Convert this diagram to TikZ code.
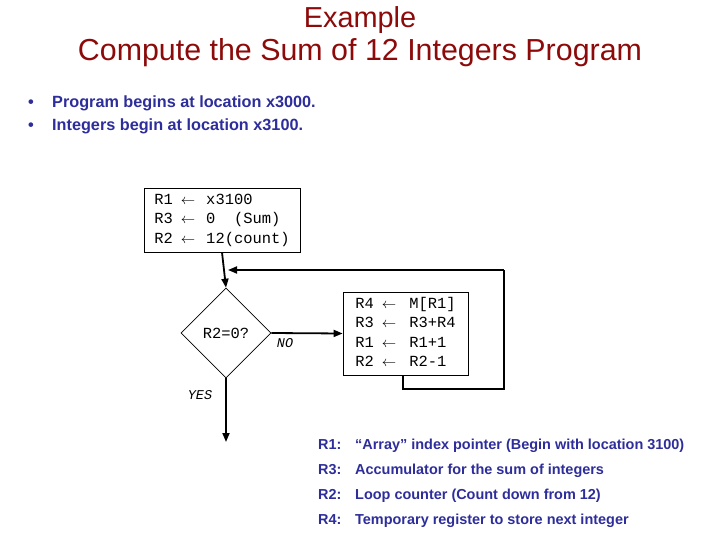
\documentclass[tikz,border=0pt]{standalone}
\usepackage{fontspec}
\setmainfont{Liberation Sans}
\setmonofont{Liberation Mono}
\usetikzlibrary{arrows.meta,shapes.geometric}
\definecolor{ttlred}{RGB}{140,10,10}
\definecolor{txtblue}{RGB}{45,45,155}
\begin{document}
\begin{tikzpicture}[x=1bp,y=-1bp,
  ttl/.style={text=ttlred,inner sep=0},
  bul/.style={text=txtblue,inner sep=0,anchor=base west,font=\bfseries\fontsize{16.3}{19}\selectfont},
  dsc/.style={text=txtblue,inner sep=0,anchor=base west,font=\bfseries\fontsize{14.5}{17}\selectfont},
  codebox/.style={draw=black,line width=0.8bp,inner sep=0,font=\ttfamily\fontsize{15.5}{19.5}\selectfont,align=left},
  lbl/.style={inner sep=0,font=\ttfamily\itshape\fontsize{13.5}{16}\selectfont},
  conn/.style={line width=1.8bp,-{Triangle[length=9bp,width=7bp]}},
  loopline/.style={line width=1.4bp}
]
\useasboundingbox (0,0) rectangle (720,540);
\node[ttl,font=\fontsize{29}{34}\selectfont] (t1) at (360,20) {Example};
\node[ttl,font=\fontsize{30.5}{36}\selectfont] (t2) at (360,53) {Compute the Sum of 12 Integers Program};

\node[bul] (b1) at (28,108) {\textbullet};
\node[bul] (b1t) at (52,108) {Program begins at location x3000.};
\node[bul] (b2) at (28,131) {\textbullet};
\node[bul] (b2t) at (52,131) {Integers begin at location x3100.};

\node[codebox,minimum width=156bp,minimum height=64bp] (init) at (222,220)
  {\begin{tabular}{@{}l@{\hspace{8bp}}c@{\hspace{11bp}}l@{}}
   R1 & $\leftarrow$ & x3100\\
   R3 & $\leftarrow$ & 0\ \ (Sum)\\
   R2 & $\leftarrow$ & 12(count)
   \end{tabular}};

\node[draw=black,line width=0.6bp,shape=diamond,minimum width=90bp,minimum height=90bp,inner sep=0,
  font=\ttfamily\fontsize{15.5}{19.5}\selectfont] (test) at (226,333) {R2=0?};

\node[codebox,minimum width=125bp,minimum height=83bp] (body) at (405.5,333.5)
  {\begin{tabular}{@{}l@{\hspace{8bp}}c@{\hspace{13bp}}l@{}}
   R4 & $\leftarrow$ & M[R1]\\
   R3 & $\leftarrow$ & R3+R4\\
   R1 & $\leftarrow$ & R1+1\\
   R2 & $\leftarrow$ & R2-1
   \end{tabular}};

\node[lbl] (no) at (285,343) {NO};
\node[lbl] (yes) at (200,395) {YES};

\coordinate (loopA) at (403,389);
\coordinate (loopB) at (504,389);
\coordinate (loopC) at (504,270);
\coordinate (loopEnd) at (228,270);
\coordinate (exit) at (226,442);

\draw[conn] (init.south) -- (test.north);
\draw[conn] (test.east) -- (body.west);
\draw[loopline] (body.south -| loopA) -- (loopA) -- (loopB) -- (loopC);
\draw[conn] (loopC) -- (loopEnd);
\draw[conn] (test.south) -- (exit);

\node[dsc] (r1) at (318,449) {R1:};
\node[dsc] (r1t) at (355,449) {“Array” index pointer (Begin with location 3100)};
\node[dsc] (r3) at (318,474) {R3:};
\node[dsc] (r3t) at (355,474) {Accumulator for the sum of integers};
\node[dsc] (r2) at (318,499) {R2:};
\node[dsc] (r2t) at (355,499) {Loop counter (Count down from 12)};
\node[dsc] (r4) at (318,524) {R4:};
\node[dsc] (r4t) at (355,524) {Temporary register to store next integer};
\end{tikzpicture}
\end{document}
